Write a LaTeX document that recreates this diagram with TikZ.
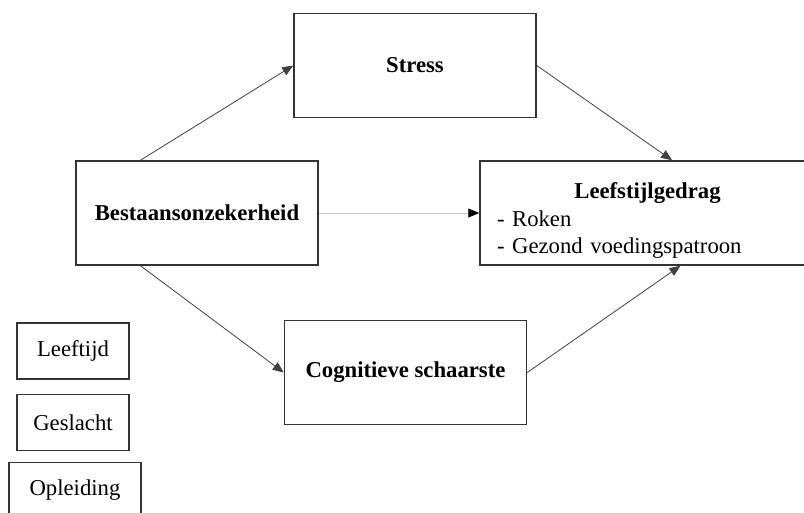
\documentclass[tikz,border=0pt]{standalone}
\usepackage{fontspec}
\setmainfont{Liberation Serif}
\usetikzlibrary{arrows.meta,calc}
\definecolor{boxgray}{HTML}{333333}
\definecolor{linkgray}{HTML}{404040}
\newcommand{\diagfont}{\fontsize{22.7}{27.2}\selectfont}
\tikzset{
    mainbox/.style ={
        draw=boxgray,
        line width=1.5pt,
        minimum width=242pt,
        minimum height=104pt,
        inner sep=0pt,
        font=\diagfont\bfseries
    },
    ctrlbox/.style ={
        draw=boxgray,
        line width=1.5pt,
        minimum width=112pt,
        minimum height=56pt,
        inner sep=0pt,
        font=\diagfont
    },
    link/.style ={
        -{Triangle[length=11pt,width=9pt]},
        line width=0.8pt,
        draw=linkgray
    }
}

\begin{document}
\begin{tikzpicture}[x=1pt,y=-1pt]
    \useasboundingbox (0,0) rectangle (804,512);
    \clip (0,0) rectangle (804,512);
    \node[mainbox] (stress) at(415,65.5) {Stress};
    \node[mainbox] (bes) at(197,213) {Bestaansonzekerheid};
    \node[mainbox] (cog) at(405.5,372.5) {Cognitieve schaarste};
    \node[mainbox, minimum width=335pt, text width=301pt, inner xsep=17pt,
          align=left, font=\diagfont] (lst) at(647.5,213)
          {\rule{0pt}{31pt}\makebox[301pt]{\textbf{Leefstijlgedrag}}\\- Roken\\- Gezond voedingspatroon};
    \node[ctrlbox] (age) at(73,351) {Leeftijd};
    \node[ctrlbox] (sex) at(73,422.5) {Geslacht};
    \node[ctrlbox, minimum width=132pt] (edu) at(75,490.5) {Opleiding};
    \draw[link] (bes.137) -- (stress.west);
    \draw[link] (bes.223) -- (cog.west);
    \draw[link] (stress.east) -- (lst.65);
    \draw[link] (cog.east) -- (lst.302);
    \draw[link, draw=gray!45, -{Triangle[length=11pt,width=9pt,color=black]}] (bes.east) -- (lst.west);
\end{tikzpicture}
\end{document}
